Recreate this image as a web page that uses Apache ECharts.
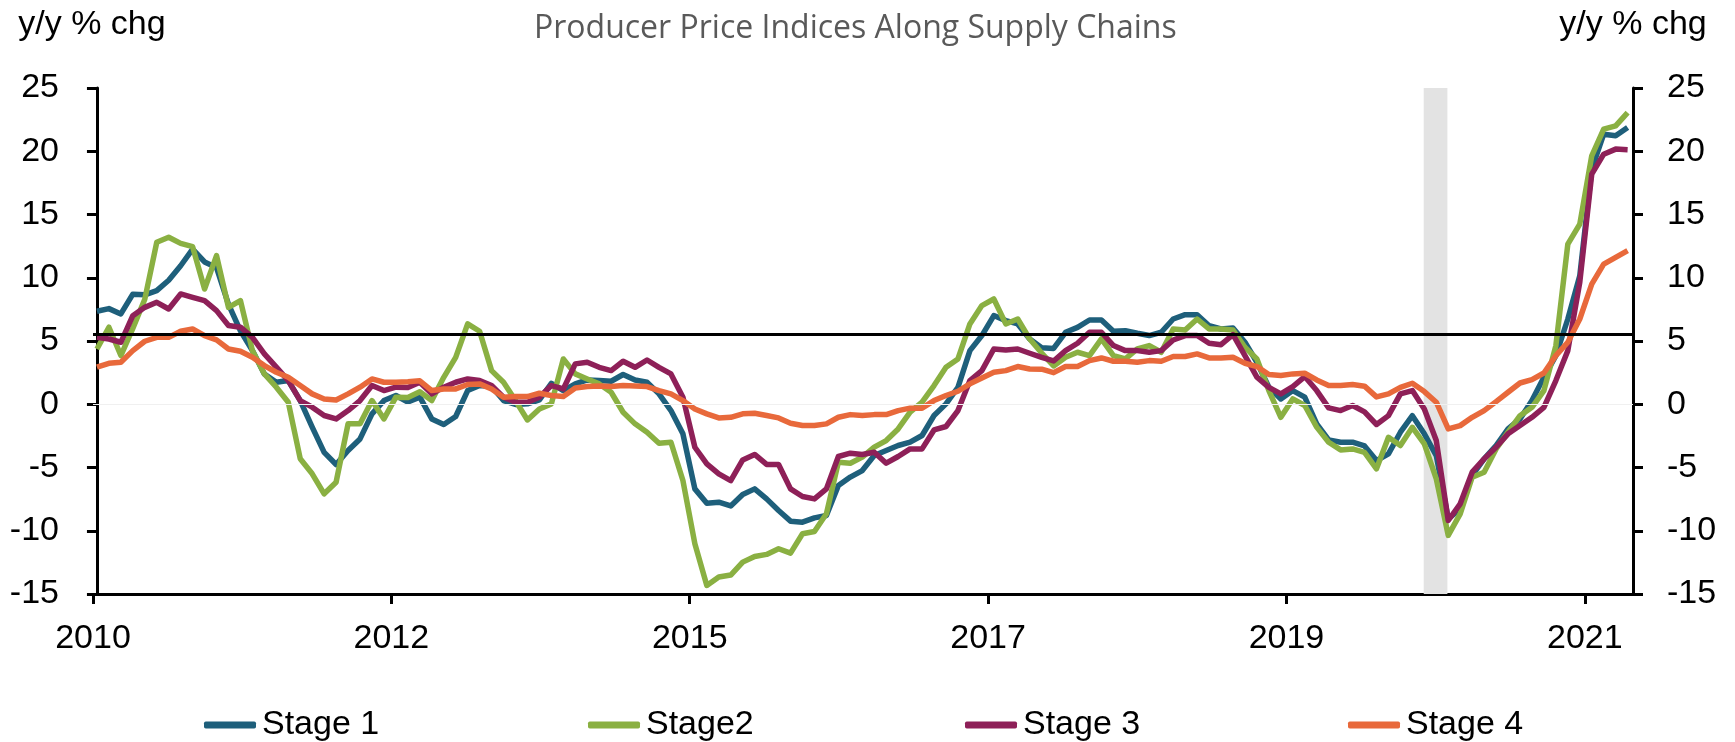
<!DOCTYPE html>
<html>
<head>
<meta charset="utf-8">
<title>Producer Price Indices Along Supply Chains</title>
<script src="https://cdn.jsdelivr.net/npm/echarts@6/dist/echarts.min.js"></script>
</head>
<body style="margin:0;background:#fff;">
<div id="chart" style="width:1735px;height:742px;"></div>
<script type="text/javascript">
// monthly y/y % changes (index 0 = first month)
var xLabels = ['2010', '2012', '2015', '2017', '2019', '2021'];
var seriesNames = ['Stage 1', 'Stage2', 'Stage 3', 'Stage 4'];

var stage1 = [
  7.35, 7.56, 7.14, 8.7, 8.65, 8.98, 9.8, 10.95, 12.27, 11.25,
  10.8, 7.9, 5.8, 4.24, 2.4, 1.74, 1.87, 0.29, -1.8, -3.8,
  -4.76, -3.66, -2.74, -0.76, 0.29, 0.69, 0.18, 0.56, -1.16, -1.6,
  -0.97, 1.08, 1.48, 1.4, 0.29, -0.02, 0.03, 0.34, 1.66, 1.08,
  1.61, 1.92, 1.87, 1.82, 2.35, 1.92, 1.74, 0.82, -0.5, -2.34,
  -6.69, -7.82, -7.74, -8.04, -7.13, -6.69, -7.48, -8.4, -9.24, -9.32,
  -8.98, -8.79, -6.42, -5.76, -5.24, -4.05, -3.66, -3.26, -3.0, -2.47,
  -0.89, 0.03, 1.34, 4.24, 5.43, 7.01, 6.61, 6.35, 5.16, 4.47,
  4.41, 5.69, 6.08, 6.66, 6.66, 5.77, 5.82, 5.61, 5.43, 5.69,
  6.74, 7.08, 7.08, 6.21, 5.95, 6.03, 4.9, 3.32, 1.34, 0.42,
  1.08, 0.56, -1.55, -2.82, -3.0, -3.0, -3.3, -4.45, -3.92, -2.21,
  -0.9, -2.34, -4.06, -9.06, -8.27, -5.63, -4.32, -3.26, -1.95, -1.16,
  0.29, 2.13, 3.84, 6.74, 10.16, 18.59, 21.35, 21.22, 21.88
];
var stage2 = [
  4.37, 6.09, 3.85, 6.0, 8.3, 12.8, 13.2, 12.72, 12.46, 9.11,
  11.75, 7.66, 8.19, 4.24, 2.4, 1.35, 0.16, -4.31, -5.5, -7.08,
  -6.16, -1.55, -1.55, 0.29, -1.16, 0.56, 0.53, 0.99, 0.29, 2.13,
  3.71, 6.35, 5.77, 2.66, 1.74, 0.29, -1.24, -0.37, 0.03, 3.58,
  2.4, 2.0, 1.61, 0.95, -0.63, -1.55, -2.21, -3.08, -3.0, -6.03,
  -11.03, -14.32, -13.66, -13.5, -12.48, -12.03, -11.87, -11.42, -11.77, -10.24,
  -10.06, -8.66, -4.58, -4.66, -4.18, -3.39, -2.87, -1.95, -0.63, 0.16,
  1.48, 2.92, 3.58, 6.35, 7.8, 8.32, 6.35, 6.74, 5.16, 4.05,
  3.03, 3.71, 4.11, 3.85, 5.16, 3.85, 3.58, 4.37, 4.64, 4.11,
  5.95, 5.87, 6.74, 5.95, 5.95, 5.87, 4.5, 3.58, 1.08, -1.03,
  0.42, -0.1, -1.81, -3.0, -3.61, -3.53, -3.8, -5.1, -2.61, -3.26,
  -1.82, -3.13, -5.9, -10.37, -8.66, -5.77, -5.37, -3.53, -2.21, -0.9,
  -0.24, 1.08, 4.63, 12.66, 14.24, 19.64, 21.75, 22.01, 23.06
];
var stage3 = [
  5.29, 5.16, 4.9, 7.0, 7.66, 8.06, 7.53, 8.72, 8.45, 8.19,
  7.4, 6.22, 6.09, 5.29, 3.98, 2.93, 1.87, 0.29, -0.23, -0.89,
  -1.16, -0.5, 0.29, 1.48, 1.08, 1.35, 1.32, 1.74, 0.82, 1.35,
  1.74, 2.0, 1.87, 1.48, 0.56, 0.16, 0.16, 0.56, 1.48, 1.21,
  3.19, 3.32, 2.92, 2.66, 3.4, 2.92, 3.5, 2.92, 2.4, 0.56,
  -3.4, -4.71, -5.5, -6.03, -4.4, -3.97, -4.76, -4.76, -6.69, -7.29,
  -7.48, -6.69, -4.13, -3.87, -3.97, -3.79, -4.66, -4.13, -3.53, -3.53,
  -2.03, -1.76, -0.5, 1.87, 2.66, 4.37, 4.29, 4.37, 4.03, 3.7,
  3.42, 4.24, 4.82, 5.69, 5.69, 4.64, 4.24, 4.24, 4.11, 4.24,
  5.08, 5.43, 5.43, 4.82, 4.71, 5.5, 3.85, 2.14, 1.34, 0.82,
  1.4, 2.19, 1.08, -0.29, -0.5, -0.1, -0.6, -1.6, -0.9, 0.82,
  1.08, -0.37, -2.87, -9.19, -7.87, -5.37, -4.32, -3.4, -2.34, -1.68,
  -1.03, -0.24, 1.87, 4.24, 9.64, 18.19, 19.77, 20.17, 20.12
];
var stage4 = [
  2.93, 3.24, 3.32, 4.24, 4.98, 5.29, 5.29, 5.77, 5.95, 5.43,
  5.09, 4.37, 4.19, 3.72, 3.06, 2.53, 2.14, 1.48, 0.82, 0.42,
  0.34, 0.82, 1.35, 2.0, 1.74, 1.74, 1.78, 1.85, 1.08, 1.21,
  1.21, 1.56, 1.61, 1.21, 0.56, 0.61, 0.61, 0.87, 0.69, 0.61,
  1.29, 1.4, 1.45, 1.4, 1.48, 1.45, 1.4, 1.08, 0.82, 0.29,
  -0.37, -0.76, -1.08, -1.03, -0.76, -0.71, -0.89, -1.08, -1.5, -1.68,
  -1.68, -1.55, -1.03, -0.82, -0.89, -0.82, -0.82, -0.5, -0.31, -0.31,
  0.29, 0.69, 1.03, 1.61, 2.08, 2.53, 2.66, 2.98, 2.79, 2.77,
  2.5, 2.98, 2.98, 3.45, 3.66, 3.4, 3.4, 3.32, 3.45, 3.4,
  3.77, 3.77, 3.98, 3.66, 3.66, 3.71, 3.24, 2.98, 2.35, 2.27,
  2.4, 2.45, 1.92, 1.48, 1.48, 1.56, 1.43, 0.58, 0.82, 1.34,
  1.66, 1.0, 0.16, -1.95, -1.69, -1.03, -0.5, 0.21, 0.95, 1.68,
  1.95, 2.47, 3.84, 4.9, 6.74, 9.5, 11.08, 11.61, 12.14
];
// recession shading (month index) and the black reference level
var recession = [110.95, 112.93];
var refLevel = 5.5;

var colors = ['#1E5F7B', '#8AB042', '#8E2058', '#E8693B'];
var font = 'Liberation Sans, Arial, sans-serif';

// x axis in month units, ticks every ~25 months
var xMin = -0.33, xMax = 128.45, xStep = 24.95;

function toPoints(arr) {
  return arr.map(function (v, i) { return [i, v]; });
}

var chart = echarts.init(document.getElementById('chart'));

var yAxisBase = function (pos) {
  return {
    type: 'value',
    position: pos,
    min: -15,
    max: 25,
    interval: 5,
    name: 'y/y % chg',
    nameGap: 46,
    nameTextStyle: {
      fontSize: 34, color: '#000', fontFamily: font,
      padding: pos == 'left' ? [0, 10, 0, 0] : [0, 0, 0, 0]
    },
    axisLine: { show: true, lineStyle: { color: '#000', width: 3 } },
    axisTick: { show: true, length: 10, lineStyle: { color: '#000', width: 3 } },
    axisLabel: { margin: 34, fontSize: 34, color: '#000', fontFamily: font },
    splitLine: { show: false }
  };
};

var legends = seriesNames.map(function (n, k) {
  return {
    data: [n],
    left: [199, 583, 960, 1343][k],
    top: 703,
    icon: 'roundRect',
    itemWidth: 52,
    itemHeight: 7,
    itemGap: 0,
    selectedMode: false,
    textStyle: { fontSize: 34, color: '#000', fontFamily: font, padding: [0, 0, 0, 1] }
  };
});

var series = [{
  name: 'ref',
  type: 'line',
  data: [],
  z: 1,
  silent: true,
  markArea: {
    silent: true,
    itemStyle: { color: '#E3E3E3' },
    data: [[{ xAxis: recession[0] }, { xAxis: recession[1] }]]
  },
  markLine: {
    silent: true,
    symbol: 'none',
    label: { show: false },
    data: [
      { yAxis: 0, lineStyle: { color: '#F0F0F0', width: 1, type: 'solid' } },
      { yAxis: refLevel, lineStyle: { color: '#000', width: 3, type: 'solid' } }
    ]
  }
}];
[stage1, stage2, stage3, stage4].forEach(function (arr, k) {
  series.push({
    name: seriesNames[k],
    type: 'line',
    data: toPoints(arr),
    z: 3,
    symbol: 'none',
    color: colors[k],
    lineStyle: { width: 5.5, color: colors[k], join: 'round' }
  });
});

chart.setOption({
  animation: false,
  backgroundColor: '#fff',
  title: {
    text: 'Producer Price Indices Along Supply Chains',
    left: 529,
    top: 8,
    textStyle: { fontFamily: 'Open Sans', fontSize: 32, fontWeight: 'normal', color: '#595959' }
  },
  legend: legends,
  grid: { left: 93, right: 102, top: 88, bottom: 148 },
  xAxis: {
    type: 'value',
    min: xMin,
    max: xMax,
    interval: xStep,
    axisLine: { onZero: false, lineStyle: { color: '#000', width: 3 } },
    axisTick: { show: true, length: 10, lineStyle: { color: '#000', width: 3 } },
    axisLabel: {
      margin: 28,
      fontSize: 34,
      color: '#000',
      fontFamily: font,
      showMaxLabel: false,
      formatter: function (v) {
        var p = (v - xMin) / xStep;
        var k = Math.round(p);
        if (Math.abs(p - k) > 0.01) return '';
        return xLabels[k] || '';
      }
    },
    splitLine: { show: false }
  },
  yAxis: [yAxisBase('left'), yAxisBase('right')],
  series: series
});
</script>
</body>
</html>
